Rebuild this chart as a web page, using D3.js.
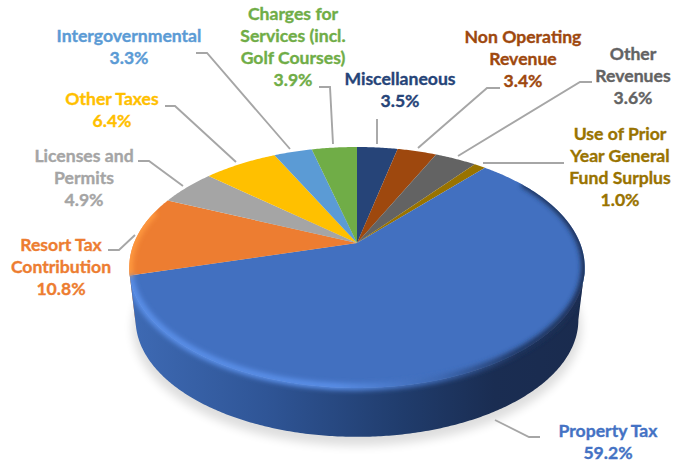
<!DOCTYPE html>
<html>
<head>
<meta charset="utf-8">
<script src="https://cdn.jsdelivr.net/npm/d3@7"></script>
<style>
  html, body { margin: 0; padding: 0; background: #fff; }
  svg { display: block; }
  .label text { font-family: Lato, sans-serif; font-weight: 700; font-size: 17.6px; text-anchor: middle; stroke-width: 0.35px; }
  .leader { fill: none; stroke: #a6a6a6; stroke-width: 1.9px; }
</style>
</head>
<body>
<svg id="chart" width="689" height="462"></svg>
<script>
var categories = ["Miscellaneous", "Non Operating Revenue", "Other Revenues", "Use of Prior Year General Fund Surplus", "Property Tax", "Resort Tax Contribution", "Licenses and Permits", "Other Taxes", "Intergovernmental", "Charges for Services (incl. Golf Courses)"];
var values = [3.5, 3.4, 3.6, 1.0, 59.2, 10.8, 4.9, 6.4, 3.3, 3.9];
var colors = ["#264478", "#9e480e", "#636363", "#997300", "#4270c0", "#ed7d31", "#a5a5a5", "#ffc000", "#5b9bd5", "#70ad47"];

// wrapped label lines, centre of the block, first baseline
var labelLines = [
  ["Miscellaneous"],
  ["Non Operating", "Revenue"],
  ["Other", "Revenues"],
  ["Use of Prior", "Year General", "Fund Surplus"],
  ["Property Tax"],
  ["Resort Tax", "Contribution"],
  ["Licenses and", "Permits"],
  ["Other Taxes"],
  ["Intergovernmental"],
  ["Charges for", "Services (incl.", "Golf Courses)"]
];
var labelPos = [[400, 85], [523, 43], [633, 60], [620, 140], [608, 437], [61, 251], [84, 162], [112, 105], [129, 42], [293, 20]];
var leaders = [
  [[377, 119], [377, 144]],
  [[500, 88], [487, 88], [418, 148]],
  [[592, 82], [580, 82], [458, 156]],
  [[564, 163], [483, 163]],
  [[540, 437], [529, 437], [495, 420]],
  [[108, 250], [119, 250], [135, 235]],
  [[138, 161], [149, 161], [183, 186]],
  [[165, 106], [175, 106], [236, 162]],
  [[196, 53], [207, 53], [290, 149]],
  [[319, 87], [330, 87], [333, 144]]
];

var svg = d3.select("#chart");
var defs = svg.append("defs");

// the disc is tilted with some perspective, so the apex sits above the ellipse centre
var apexX = 357, apexY = 243, tilt = 0.203, scaleX = 223, scaleY = 115.5;

function project(theta, dy, shrink) {
  var u = Math.sin(theta), v = -Math.cos(theta), w = 1 - tilt * v;
  return [apexX + shrink * scaleX * u / w, apexY + dy + shrink * scaleY * v / w];
}
function arcPoints(a0, a1, dy, shrink) {
  var n = Math.max(2, Math.ceil(Math.abs(a1 - a0) / 0.01));
  return d3.range(n + 1).map(function(i) {
    return project(a0 + (a1 - a0) * i / n, dy, shrink);
  });
}
var line = d3.line();

var slices = d3.pie().sort(null).value(function(d) { return d; })(values);

// soft shadow under the disc
defs.append("filter").attr("id", "shadow").attr("x", "-20%").attr("y", "-20%").attr("width", "140%").attr("height", "140%")
  .append("feGaussianBlur").attr("stdDeviation", 5);
defs.append("filter").attr("id", "rimBlur").attr("x", "-20%").attr("y", "-20%").attr("width", "140%").attr("height", "140%")
  .append("feGaussianBlur").attr("stdDeviation", 2.6);

svg.append("path")
  .attr("d", line(arcPoints(0, 2 * Math.PI, 60, 0.985)) + "Z")
  .attr("fill", "#000").attr("opacity", 0.13).attr("filter", "url(#shadow)");

// side wall
var depth = 53, bottomShrink = 0.972;
var sideGrad = defs.append("linearGradient").attr("id", "side")
  .attr("gradientUnits", "userSpaceOnUse").attr("x1", 130).attr("x2", 585).attr("y1", 0).attr("y2", 0);
[[0, "#3e6ab4"], [0.3, "#2f5596"], [0.6, "#203c6c"], [0.8, "#1a2d52"], [1, "#1a2b4e"]].forEach(function(s) {
  sideGrad.append("stop").attr("offset", s[0]).attr("stop-color", s[1]);
});

var widest = Math.acos(-tilt);
var propertyEnd = slices[4].endAngle;
function sidePath(a0, a1) {
  return line(arcPoints(a0, a1, 0, 1).concat(arcPoints(a1, a0, depth, bottomShrink))) + "Z";
}
svg.append("path").attr("d", sidePath(propertyEnd, 2 * Math.PI - widest)).attr("fill", "#c96a28");
svg.append("path").attr("d", sidePath(widest, propertyEnd)).attr("fill", "url(#side)");

// top face
var faceGroup = svg.append("g");
slices.forEach(function(d, i) {
  var pts = [[apexX, apexY]].concat(arcPoints(d.startAngle, d.endAngle, 0, 1));
  faceGroup.append("path")
    .attr("d", line(pts) + "Z")
    .attr("fill", colors[i]);
});

// bevel along the front edge, may bleed onto the wall but not outside the shape
var clip = defs.append("clipPath").attr("id", "bodyClip");
clip.append("path").attr("d", line(arcPoints(0, 2 * Math.PI, 0, 1)) + "Z");
clip.append("path").attr("d", sidePath(widest, 2 * Math.PI - widest));
var rimGrad = defs.append("linearGradient").attr("id", "rim")
  .attr("gradientUnits", "userSpaceOnUse").attr("x1", 130).attr("x2", 585).attr("y1", 0).attr("y2", 0);
[[0, "#5a8fe8"], [0.45, "#5a8fe8"], [0.68, "#3d68b2"], [0.85, "#1f3560"], [1, "#1b2d52"]].forEach(function(s) {
  rimGrad.append("stop").attr("offset", s[0]).attr("stop-color", s[1]);
});
var rim = svg.append("g").attr("clip-path", "url(#bodyClip)");
rim.append("path").attr("d", line(arcPoints(slices[4].startAngle + 0.25, propertyEnd, -1, 1)))
  .attr("fill", "none").attr("stroke", "url(#rim)").attr("stroke-width", 7).attr("filter", "url(#rimBlur)");
rim.append("path").attr("d", line(arcPoints(propertyEnd, slices[5].endAngle - 0.12, 0, 1)))
  .attr("fill", "none").attr("stroke", "#ff9a40").attr("stroke-width", 7).attr("filter", "url(#rimBlur)");

// leader lines
svg.append("g").selectAll("path").data(leaders).join("path")
  .attr("class", "leader")
  .attr("d", function(d) { return line(d); });

// labels
var label = svg.append("g").attr("class", "label").selectAll("text").data(categories).join("text")
  .attr("fill", function(d, i) { return colors[i] === "#4270c0" ? "#4472c4" : colors[i]; })
  .attr("stroke", function(d, i) { return colors[i] === "#4270c0" ? "#4472c4" : colors[i]; })
  .attr("transform", function(d, i) { return "translate(" + labelPos[i] + ")"; });

var pctFormat = d3.format(".1f");
label.each(function(d, i) {
  var text = d3.select(this);
  labelLines[i].concat(pctFormat(values[i]) + "%").forEach(function(t, j) {
    text.append("tspan").attr("x", 0).attr("y", j * 22).text(t);
  });
});
</script>
</body>
</html>
